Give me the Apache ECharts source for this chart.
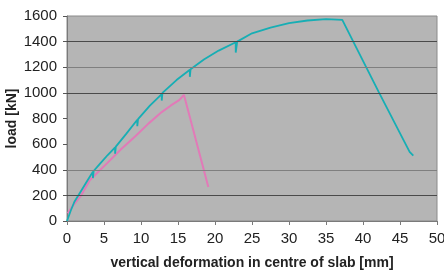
<!DOCTYPE html>
<html>
<head>
<meta charset="utf-8">
<script src="https://cdn.jsdelivr.net/npm/echarts@6/dist/echarts.min.js"></script>
<style>
  html, body { margin: 0; padding: 0; background: #fff; }
  #chart { width: 444px; height: 270px; }
</style>
</head>
<body>
<div id="chart"></div>
<script>
// slab A (teal) – deformation [mm] / load [kN]
var slabAX = [0, 0.5, 1.0, 1.8, 2.7, 3.5, 3.5, 3.6, 4.5, 5.5, 6.5, 6.5, 6.6, 8.0, 9.5, 9.5, 9.6, 11.2, 12.8, 12.8, 12.9, 14.8, 16.6, 16.6, 16.7, 18.5, 20.5, 22.8, 22.8, 23.0, 25.0, 27.5, 30.0, 32.5, 35.0, 37.2, 42.1, 46.3, 46.8];
var slabAY = [0, 80, 150, 225, 310, 385, 335, 390, 450, 515, 575, 525, 580, 680, 790, 740, 795, 900, 990, 940, 1000, 1100, 1180, 1125, 1185, 1260, 1330, 1395, 1315, 1400, 1465, 1510, 1545, 1565, 1575, 1570, 1010, 540, 510];
// slab B (pink)
var slabBX = [0.1, 0.8, 1.8, 3.1, 5.4, 7.3, 9.2, 11.0, 12.8, 14.0, 15.2, 15.8, 19.1];
var slabBY = [60, 120, 190, 320, 450, 560, 660, 760, 850, 900, 945, 985, 265];

// horizontal gridlines that are visible in the picture (dark / light)
var darkGrid = [200, 1000, 1400];
var lightGrid = [400, 1200];

function pairs(xs, ys) {
  var out = [];
  for (var i = 0; i < xs.length; i++) out.push([xs[i], ys[i]]);
  return out;
}

var gridMarks = [];
darkGrid.forEach(function (v) {
  gridMarks.push({ yAxis: v, lineStyle: { color: '#4a4a4a', width: 1, type: 'solid' } });
});
lightGrid.forEach(function (v) {
  gridMarks.push({ yAxis: v, lineStyle: { color: '#7f7f7f', width: 1, type: 'solid' } });
});

var myChart = echarts.init(document.getElementById('chart'));
var font = 'Arial, "Liberation Sans", sans-serif';

var option = {
  animation: false,
  backgroundColor: '#fff',
  grid: {
    left: 67, right: 7, top: 16, bottom: 49,
    outerBoundsMode: 'none',
    containLabel: false,
    show: true,
    backgroundColor: '#b5b5b5',
    borderColor: '#8a8a8a',
    borderWidth: 1
  },
  xAxis: {
    type: 'value',
    min: 0, max: 50, interval: 5,
    name: 'vertical deformation in centre of slab [mm]',
    nameLocation: 'middle',
    nameGap: 35,
    nameMoveOverlap: false,
    nameTextStyle: { fontFamily: font, fontWeight: 'bold', fontSize: 14, color: '#222' },
    axisLine: { show: true, lineStyle: { color: '#7a7a7a' } },
    axisTick: { show: true, length: 4, lineStyle: { color: '#7a7a7a' } },
    axisLabel: {
      fontFamily: font, fontSize: 15, color: '#222', margin: 10,
      formatter: function (v) { return String(v); }
    },
    splitLine: { show: false }
  },
  yAxis: {
    type: 'value',
    min: 0, max: 1600, interval: 200,
    name: 'load [kN]',
    nameLocation: 'middle',
    nameRotate: 90,
    nameGap: 48,
    nameMoveOverlap: false,
    nameTextStyle: { fontFamily: font, fontWeight: 'bold', fontSize: 14, color: '#222' },
    axisLine: { show: true, lineStyle: { color: '#7a7a7a' } },
    axisTick: { show: true, length: 4, lineStyle: { color: '#555' } },
    axisLabel: {
      fontFamily: font, fontSize: 15, color: '#222', margin: 10,
      formatter: function (v) { return String(v); }
    },
    splitLine: { show: false }
  },
  series: [
    {
      name: 'slab B',
      type: 'line',
      data: pairs(slabBX, slabBY),
      showSymbol: false,
      lineStyle: { color: '#e27ab8', width: 2 },
      markLine: {
        silent: true,
        symbol: 'none',
        label: { show: false },
        animation: false,
        data: gridMarks
      },
      z: 2
    },
    {
      name: 'slab A',
      type: 'line',
      data: pairs(slabAX, slabAY),
      showSymbol: false,
      lineStyle: { color: '#17aeb4', width: 1.8 },
      z: 3
    }
  ]
};
myChart.setOption(option);
window.addEventListener('resize', function () { myChart.resize(); });
</script>
</body>
</html>
